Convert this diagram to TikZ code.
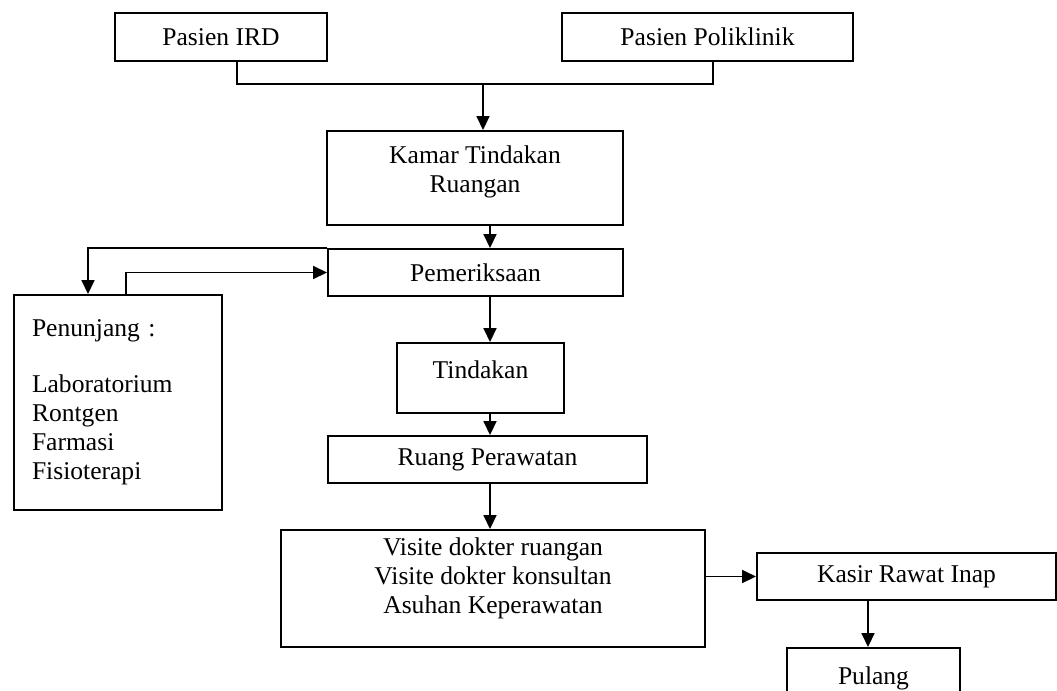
\documentclass[tikz,border=0pt]{standalone}
\usepackage{fontspec}
\setmainfont{Liberation Serif}
\usetikzlibrary{positioning,arrows.meta,calc}
\tikzset{
  flow/.style={-{Triangle[length=6.5pt,width=6pt]},line width=0.9pt,draw=black},
  link/.style={line width=0.9pt,draw=black},
  box/.style={draw=black,line width=0.9pt,fill=white,inner sep=0pt,
    align=center,font=\fontsize{12pt}{13.6pt}\selectfont},
  listbox/.style={box,align=left}
}

\begin{document}
\begin{tikzpicture}[x=0.0165cm,y=-0.0165cm]
  \useasboundingbox (0,0) rectangle (1057,690);
  % sources
  \node[box,minimum width=212*0.0165cm,minimum height=48*0.0165cm] (ird) at (221,37) {Pasien IRD};
  \node[box,minimum width=291*0.0165cm,minimum height=48*0.0165cm] (poli) at (707.5,37) {Pasien Poliklinik};
  % main column
  \node[box,minimum width=296*0.0165cm,minimum height=94*0.0165cm,text depth=8.2pt] (kamar) at (475,178) {Kamar Tindakan\\Ruangan};
  \node[box,minimum width=295*0.0165cm,minimum height=47*0.0165cm] (periksa) at (475.5,272.5) {Pemeriksaan};
  \node[box,minimum width=167*0.0165cm,minimum height=70*0.0165cm,text depth=7.5pt] (tindakan) at (480.5,378) {Tindakan};
  \node[box,minimum width=319*0.0165cm,minimum height=47*0.0165cm] (ruang) at (487.5,459.5) {Ruang Perawatan};
  \node[box,minimum width=424*0.0165cm,minimum height=117*0.0165cm,text depth=12.4pt] (visite) at (493,588.5) {Visite dokter ruangan\\Visite dokter konsultan\\Asuhan Keperawatan};
  \node[box,minimum width=299*0.0165cm,minimum height=47*0.0165cm] (kasir) at (906.5,576.5) {Kasir Rawat Inap};
  \node[box,minimum width=173*0.0165cm,minimum height=60*0.0165cm] (pulang) at (873.5,678) {Pulang};
  % support services
  \node[listbox,minimum width=208*0.0165cm,minimum height=215*0.0165cm,text width=172*0.0165cm] (penunjang) at (118,402.5) {Penunjang :\\[1.05em]Laboratorium\\Rontgen\\Farmasi\\Fisioterapi\\[1.1em]};

  \coordinate (jl) at (237,84);
  \coordinate (jr) at (713,84);
  \coordinate (jm) at (483,84);
  \coordinate (spine) at (490,0);
  \coordinate (sout) at (88,0);
  \coordinate (sback) at (126,0);
  \coordinate (pay) at (868,0);

  \draw[link] (ird.south -| jl) -- (jl) -- (jr) -- (poli.south -| jr);
  \draw[flow] (jm) -- (jm |- kamar.north);
  \draw[flow] (kamar.south -| spine) -- (periksa.north -| spine);
  \draw[flow] (periksa.south -| spine) -- (tindakan.north -| spine);
  \draw[flow] (tindakan.south -| spine) -- (ruang.north -| spine);
  \draw[flow] (ruang.south -| spine) -- (visite.north -| spine);
  \draw[flow] (periksa.north west) -| (penunjang.north -| sout);
  \draw[flow] (penunjang.north -| sback) |- (periksa.west);
  \draw[flow] (visite.east |- kasir.west) -- (kasir.west);
  \draw[flow] (kasir.south -| pay) -- (pulang.north -| pay);
\end{tikzpicture}
\end{document}
